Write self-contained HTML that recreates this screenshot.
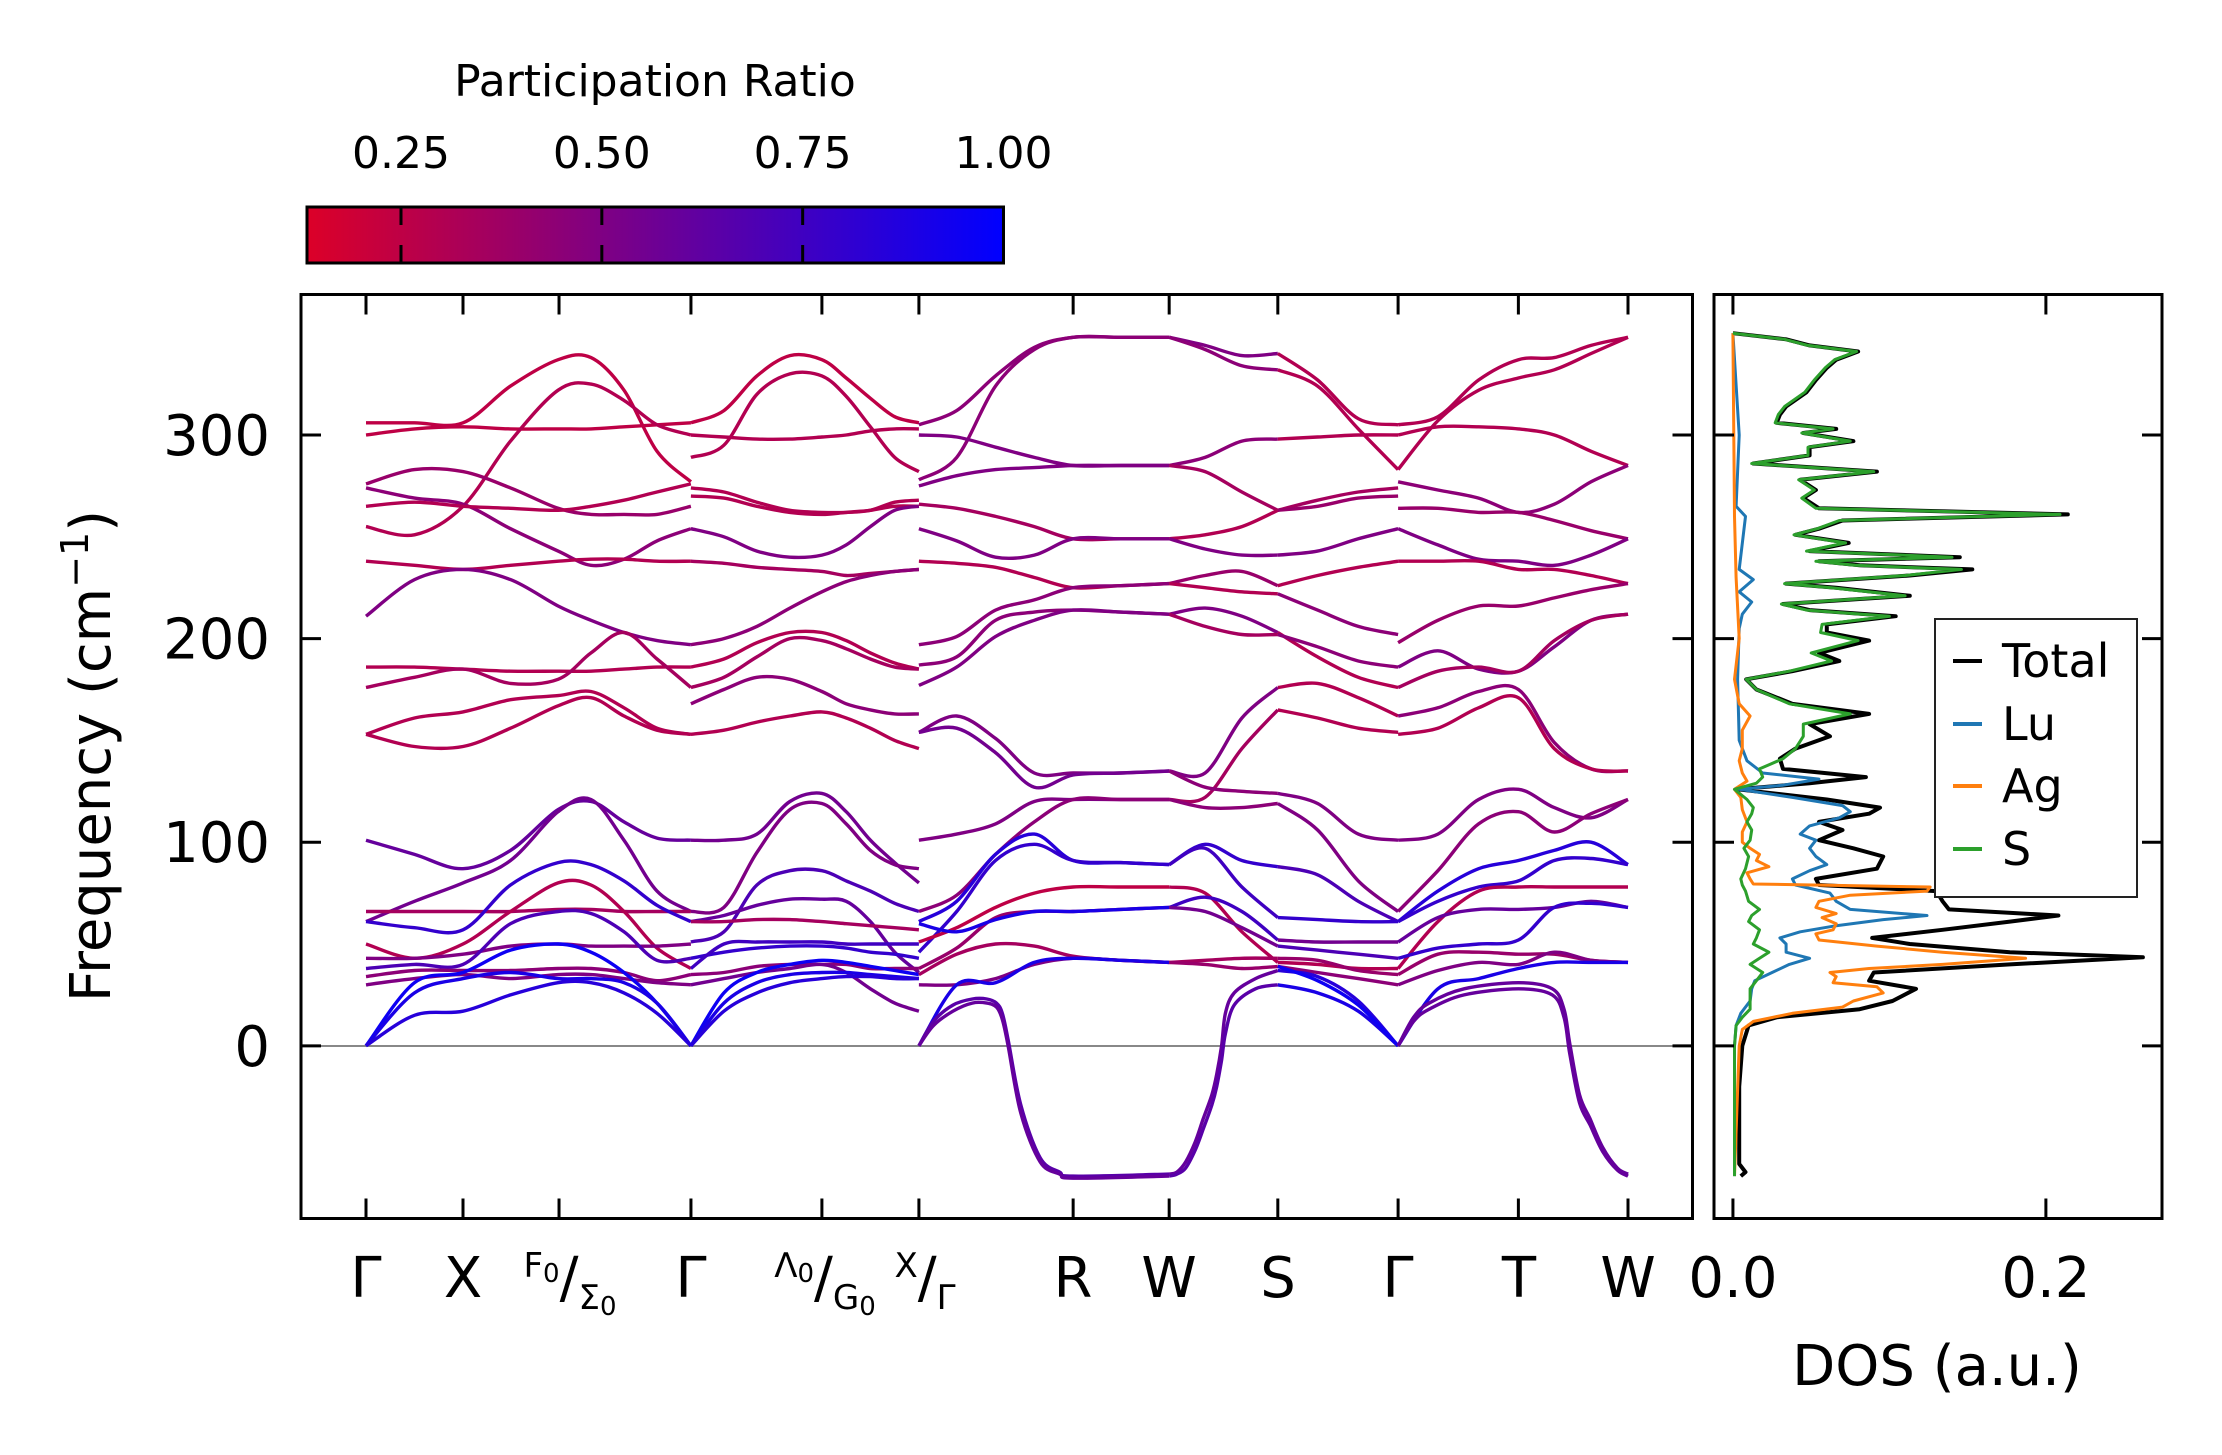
<!DOCTYPE html>
<html><head><meta charset="utf-8"><style>
html,body{margin:0;padding:0;background:#fff;}
svg{display:block;font-family:"DejaVu Sans","Liberation Sans",sans-serif;}
</style></head><body>
<svg id="fig" width="2222" height="1455" viewBox="0 0 2222 1455" xmlns="http://www.w3.org/2000/svg">
<defs>
<linearGradient id="cbgrad" x1="0" y1="0" x2="1" y2="0">
<stop offset="0" stop-color="rgb(220,0,40)"/><stop offset="1" stop-color="rgb(0,0,255)"/>
</linearGradient>
<clipPath id="bandclip"><rect x="301" y="294.5" width="1391.5" height="924"/></clipPath>
<clipPath id="dosclip"><rect x="1714" y="294.5" width="448" height="924"/></clipPath>
</defs>
<rect width="2222" height="1455" fill="#fff"/>
<g>
<text x="655" y="96" font-size="44" text-anchor="middle">Participation Ratio</text>
<rect x="307" y="207" width="696.5" height="56" fill="url(#cbgrad)" stroke="#000" stroke-width="3"/>
<g id="cbticks"></g>
</g>
<g id="bandpanel">
<line x1="301" x2="1692.5" y1="1046" y2="1046" stroke="#888" stroke-width="2"/>
<g id="bands" clip-path="url(#bandclip)"></g>
<rect x="301" y="294.5" width="1391.5" height="924" fill="none" stroke="#000" stroke-width="3"/>
<g id="bandaxes"></g>
<g font-size="56">
<text x="366" y="1297" text-anchor="middle">Γ</text>
<text x="463" y="1297" text-anchor="middle">X</text>
<text x="570" y="1297" text-anchor="middle"><tspan font-size="34" dy="-20">F</tspan><tspan font-size="26" dy="5">0</tspan><tspan font-size="56" dy="15">/</tspan><tspan font-size="34" dy="12">Σ</tspan><tspan font-size="26" dy="6">0</tspan></text>
<text x="691" y="1297" text-anchor="middle">Γ</text>
<text x="825" y="1297" text-anchor="middle"><tspan font-size="34" dy="-20">Λ</tspan><tspan font-size="26" dy="5">0</tspan><tspan font-size="56" dy="15">/</tspan><tspan font-size="34" dy="12">G</tspan><tspan font-size="26" dy="6">0</tspan></text>
<text x="925" y="1297" text-anchor="middle"><tspan font-size="34" dy="-20">X</tspan><tspan font-size="56" dy="20">/</tspan><tspan font-size="34" dy="12">Γ</tspan></text>
<text x="1073" y="1297" text-anchor="middle">R</text>
<text x="1169" y="1297" text-anchor="middle">W</text>
<text x="1278" y="1297" text-anchor="middle">S</text>
<text x="1398" y="1297" text-anchor="middle">Γ</text>
<text x="1519" y="1297" text-anchor="middle">T</text>
<text x="1628" y="1297" text-anchor="middle">W</text>
</g>
<text transform="translate(110,756) rotate(-90)" font-size="56" text-anchor="middle">Frequency (cm<tspan font-size="38" dy="-22">−1</tspan><tspan dy="22">)</tspan></text>
</g>
<g id="dospanel">
<g id="dos" clip-path="url(#dosclip)"></g>
<rect x="1714" y="294.5" width="448" height="924" fill="none" stroke="#000" stroke-width="3"/>
<g id="dosaxes"></g>
<text x="1937" y="1385" font-size="56" text-anchor="middle">DOS (a.u.)</text>
<g>
<rect x="1935" y="619" width="202" height="278" fill="#fff" stroke="#222" stroke-width="2"/>
<line x1="1953" x2="1982" y1="661" y2="661" stroke="#000" stroke-width="4"/>
<text x="2002" y="677" font-size="46">Total</text>
<line x1="1953" x2="1982" y1="724" y2="724" stroke="#1f77b4" stroke-width="4"/>
<text x="2002" y="740" font-size="46">Lu</text>
<line x1="1953" x2="1982" y1="786" y2="786" stroke="#ff7f0e" stroke-width="4"/>
<text x="2002" y="802" font-size="46">Ag</text>
<line x1="1953" x2="1982" y1="849" y2="849" stroke="#2ca02c" stroke-width="4"/>
<text x="2002" y="865" font-size="46">S</text>
</g>
</g>
</svg>
<script>
// ---------- data ----------
const kTicks=[0,1,1.99,3.35,4.70,5.70,7.29,8.28,9.40,10.64,11.88,13.01];
const yTicks=[0,100,200,300];
const yTickLabels=["0","100","200","300"];
const cbTicks=[0.25,0.5,0.75,1.0];
const cbTickLabels=["0.25","0.50","0.75","1.00"];
const dosTicks=[0,0.2];
const dosTickLabels=["0.0","0.2"];

const kP1=[0,0.5,1.0,1.49,1.98,2.32,2.66,3.0,3.35];
const fP1=[
[306,306,306,324,337,338,322,292,277],[300,303,304,303,303,303,304,305,306],[255,251,265,297,322,325,317,305,300],
[276,283,282,274,264,261,261,261,265],[274,269,266,254,243,236,239,248,254],[265,267,265,264,263,265,268,272,276],
[238,236,234,236,238,239,239,238,238],[211,229,234,229,216,209,203,199,197],[186,186,185,184,184,184,185,186,186],
[176,181,185,178,180,193,203,190,176],[153,161,164,170,172,174,166,156,153],[153,147,147,156,167,171,162,155,153],
[101,94,87,96,116,120,110,102,101],[61,71,80,91,115,121,101,76,66],[66,66,66,66,67,67,66,66,66],
[61,58,57,79,90,89,81,69,61],[50,43,50,66,80,79,66,48,38],[43,43,45,49,50,49,49,49,50],
[38,40,40,60,66,65,56,42,43],[34,37,37,37,38,38,36,32,35],[30,33,35,33,35,35,33,31,30],
[0,31,36,47,50,46,36,21,0],[0,26,33,36,33,33,31,21,0],[0,15,17,25,31,31,26,16,0]];
const prP1=[0.25,0.25,0.3,0.4,0.45,0.3,0.3,0.5,0.3,0.35,0.3,0.3,0.6,0.55,0.35,0.8,0.3,0.5,0.7,0.45,0.5,0.95,0.9,0.85];

const kP2=[3.35,3.69,4.03,4.37,4.70,4.95,5.20,5.45,5.70];
const fP2=[
[306,312,329,339,337,328,318,309,306],[289,295,320,330,329,319,304,289,282],[300,299,298,298,299,300,302,303,303],
[274,272,267,263,262,262,263,267,268],[270,269,265,262,261,262,263,265,265],[254,250,243,240,241,246,255,263,265],
[238,237,235,234,233,231,232,233,234],[197,200,206,215,223,228,231,233,234],[186,190,198,203,203,199,193,188,185],
[176,181,191,200,199,195,190,186,185],[168,175,181,180,174,168,165,163,163],[153,155,159,162,164,161,156,150,146],
[101,101,104,120,124,115,101,90,80],[66,68,95,116,119,109,96,89,87],[51,56,79,86,86,81,76,70,66],
[61,64,69,72,72,71,61,46,36],[61,61,62,62,61,60,59,58,57],[43,46,48,49,49,48,46,45,43],
[38,50,51,51,51,50,50,50,50],[35,36,39,40,40,40,38,38,38],[30,33,36,38,40,36,28,21,17],
[0,26,36,40,42,41,39,37,35],[0,21,31,35,36,36,35,34,33],[0,17,26,31,33,34,34,33,33]];
const prP2=[0.25,0.3,0.3,0.3,0.3,0.5,0.35,0.45,0.3,0.35,0.45,0.3,0.55,0.5,0.7,0.6,0.35,0.8,0.75,0.45,0.55,0.95,0.9,0.85];

const kP3=[5.70,6.09,6.49,6.89,7.29,7.78,8.28];
const fP3=[
[305,312,329,343,348,348,348],[278,289,324,342,348,348,348],[300,299,294,289,285,285,285],
[275,280,283,284,285,285,285],[266,264,260,255,249,249,249],[254,248,240,241,249,249,249],
[238,237,235,230,225,226,227],[197,201,214,219,225,226,227],[187,191,209,213,214,213,212],
[177,186,201,209,214,213,212],[154,162,151,134,134,134,135],[154,156,144,127,133,134,135],
[101,104,109,120,121,121,121],[66,74,94,110,121,121,121],[61,71,94,104,91,90,89],
[46,66,91,99,91,90,89],[51,58,68,75,78,78,78],[38,48,63,66,66,67,68],
[60,56,62,66,66,67,68],[35,45,50,49,44,42,41],[30,30,33,40,43,42,41],
[0,30,31,41,43,42,41]];
const prP3=[0.45,0.45,0.5,0.5,0.35,0.5,0.3,0.45,0.45,0.5,0.5,0.55,0.5,0.45,0.85,0.8,0.25,0.4,0.9,0.35,0.5,0.9];

const kP4=[8.28,8.65,9.03,9.40];
const fP4=[
[348,344,339,340],[348,342,334,332],[285,289,297,298],[285,282,272,263],[249,251,255,263],[249,244,241,241],
[227,231,233,226],[227,225,223,222],[212,215,211,203],[212,206,202,202],[135,134,161,176],[121,122,146,165],
[135,127,125,124],[121,117,117,119],[89,99,91,88],[89,97,78,63],[78,75,56,41],[68,73,66,52],
[68,66,58,49],[41,42,43,43],[41,40,38,39]];
const prP4=[0.5,0.45,0.45,0.35,0.3,0.5,0.4,0.3,0.5,0.35,0.5,0.35,0.45,0.45,0.8,0.75,0.3,0.75,0.55,0.35,0.4];

const kP5=[9.40,9.81,10.23,10.64];
const fP5=[
[340,327,308,305],[332,324,303,283],[298,299,300,300],[263,268,272,274],[263,265,269,270],[241,243,249,254],
[226,231,235,238],[222,214,206,202],[203,191,181,176],[202,196,189,186],[176,178,171,162],[165,161,156,154],
[124,119,104,101],[119,106,81,66],[88,84,71,61],[63,62,61,61],[41,40,38,38],[52,51,51,51],
[49,47,45,43],[43,42,37,35],[39,36,33,30],
[37,34,22,0],[30,26,17,0],[39,32,20,0]];
const prP5=[0.3,0.3,0.3,0.35,0.4,0.5,0.3,0.45,0.3,0.45,0.3,0.3,0.5,0.5,0.7,0.8,0.3,0.55,0.7,0.4,0.45,0.85,0.9,0.95];

const kP6=[10.64,11.05,11.47,11.88,12.25,12.63,13.01];
const fP6=[
[305,309,327,337,338,344,348],[283,307,322,328,332,340,348],[300,304,304,303,300,292,285],
[277,273,269,262,266,277,285],[264,264,262,262,258,253,249],[254,246,239,238,236,241,249],
[238,238,238,234,234,231,227],[198,209,216,216,220,224,227],[186,194,185,184,196,209,212],
[176,184,186,184,199,209,212],[162,166,174,175,149,136,135],[153,156,166,171,146,136,135],
[101,104,121,126,117,112,121],[66,86,109,115,105,114,121],[61,76,87,91,96,100,89],
[61,71,78,81,91,92,89],[38,61,76,78,78,78,78],[51,63,67,67,68,71,68],
[43,48,50,52,68,70,68],[35,45,46,45,45,42,41],[30,37,41,40,46,42,41],
[0,28,33,38,41,41,41]];
const prP6=[0.3,0.3,0.3,0.45,0.4,0.5,0.3,0.4,0.5,0.35,0.45,0.3,0.5,0.45,0.85,0.8,0.3,0.6,0.8,0.4,0.5,0.9];

const kImA=[5.70,5.85,6.05,6.25,6.40,6.50,6.56,6.62,6.75,6.95,7.15,7.29,8.28];
const fImA1=[0,12,20,23,23,21,16,3,-29,-55,-62,-64,-63];
const fImA2=[0,10,17,21,21,19,13,0,-33,-57,-63,-65,-64];
const kImB=[8.28,8.36,8.45,8.55,8.63,8.72,8.77,8.82,8.86,8.95,9.17,9.40];
const fImB1=[-63,-62,-57,-47,-36,-24,-14,0,16,26,33,37];
const fImB2=[-64,-63,-60,-51,-41,-29,-20,-7,6,20,28,30];
const kImC=[10.64,10.80,10.96,11.32,11.88,12.23,12.35,12.41,12.51,12.62,12.75,12.90,13.01];
const fImC1=[0,14,21,28,31,28,18,1,-24,-36,-50,-60,-63];
const fImC2=[0,12,18,25,28,25,14,-4,-28,-39,-52,-61,-64];
const prImag=[0.65,0.6,0.6,0.65,0.6,0.6];

const totF=[-64,-62,-58,-40,-20,0,10,14,18,22,28,32,36,40,43.5,46,50,53,57,61,64,67,71,76,79,82,87,93,97,101,106,110,114,117,121,126,129,132,136,141,146,152,158,163,168,175,180,184,189,193,199,203,207,211,214,217,221,225,227,231,234,236,238,240,243,247,251,254,258,261,264,269,273,278,282,286,290,294,297,301,303,306,310,314,321,327,333,337,341,344,347,350];
const totV=[0.005,0.008,0.004,0.004,0.004,0.006,0.010,0.028,0.081,0.102,0.117,0.087,0.090,0.177,0.262,0.177,0.113,0.089,0.134,0.177,0.208,0.138,0.134,0.130,0.055,0.053,0.092,0.096,0.077,0.055,0.070,0.055,0.087,0.094,0.060,0.003,0.049,0.085,0.032,0.030,0.040,0.062,0.049,0.087,0.038,0.015,0.0085,0.038,0.068,0.055,0.087,0.060,0.060,0.104,0.049,0.032,0.113,0.066,0.034,0.113,0.153,0.081,0.055,0.145,0.049,0.074,0.040,0.055,0.070,0.214,0.055,0.045,0.053,0.043,0.092,0.013,0.049,0.049,0.077,0.045,0.066,0.028,0.030,0.034,0.047,0.053,0.060,0.066,0.080,0.049,0.034,0.0];
const sV=[0.001,0.001,0.001,0.001,0.001,0.001,0.002,0.006,0.011,0.011,0.011,0.015,0.019,0.011,0.018,0.023,0.013,0.015,0.017,0.010,0.012,0.017,0.010,0.008,0.006,0.005,0.008,0.010,0.007,0.011,0.012,0.009,0.012,0.013,0.009,0.001,0.015,0.019,0.017,0.032,0.040,0.045,0.045,0.075,0.036,0.015,0.0085,0.036,0.063,0.050,0.080,0.056,0.057,0.100,0.047,0.031,0.110,0.063,0.033,0.110,0.146,0.078,0.053,0.140,0.047,0.072,0.039,0.054,0.068,0.209,0.053,0.044,0.052,0.042,0.090,0.012,0.048,0.048,0.075,0.044,0.064,0.027,0.029,0.033,0.046,0.052,0.059,0.065,0.079,0.048,0.033,0.0];
const luF=[-64,0,10,16,22,28,32,36,40,43,46,50,53,56,59,62,64,67,71,75,79,82,86,89,93,97,101,104,108,112,115,118,122,126,128,131,134,140,150,180,205,212,218,223,229,234,260,265,300,350];
const luV=[0.001,0.001,0.002,0.005,0.011,0.012,0.014,0.025,0.036,0.049,0.034,0.034,0.030,0.043,0.066,0.096,0.124,0.075,0.066,0.062,0.040,0.038,0.049,0.060,0.053,0.049,0.053,0.043,0.049,0.068,0.075,0.070,0.038,0.004,0.032,0.055,0.019,0.009,0.004,0.003,0.004,0.006,0.012,0.004,0.013,0.004,0.008,0.002,0.004,0.0];
const agF=[-64,0,8,12,16,19,22,26,29,31,34,36,38,40,43,46,49,52,55,57,60,63,65,68,71,74,76,78,79.5,82,85,88,91,94,97,100,105,110,116,122,126,130,134,140,146,155,162,168,180,200,230,260,350];
const agV=[0.001,0.004,0.006,0.013,0.038,0.070,0.077,0.096,0.092,0.064,0.066,0.062,0.087,0.134,0.187,0.134,0.092,0.055,0.053,0.064,0.066,0.057,0.066,0.053,0.055,0.075,0.124,0.126,0.013,0.011,0.009,0.023,0.015,0.017,0.011,0.006,0.006,0.009,0.006,0.005,0.001,0.009,0.006,0.004,0.006,0.006,0.011,0.004,0.001,0.004,0.002,0.001,0.0];

// ---------- scales ----------
const NS="http://www.w3.org/2000/svg";
const kMin=-0.67,kMax=13.675,bx0=301,bx1=1692.5;
const fMin=-84.8,fMax=369,by0=1218.5,by1=294.5;
function xK(k){return bx0+(k-kMin)/(kMax-kMin)*(bx1-bx0);}
function yF(f){return by0+(f-fMin)/(fMax-fMin)*(by1-by0);}
const dMin=-0.0121,dMax=0.2742,dx0=1714,dx1=2162;
function xD(d){return dx0+(d-dMin)/(dMax-dMin)*(dx1-dx0);}
const cbMin=0.133,cbMax=1.0,cx0=307,cx1=1003.5;
function xC(v){return cx0+(v-cbMin)/(cbMax-cbMin)*(cx1-cx0);}
function prColor(p){let t=(p-cbMin)/(cbMax-cbMin);t=Math.max(0,Math.min(1,t));
return "rgb("+Math.round(220*(1-t))+",0,"+Math.round(40+215*t)+")";}
function mk(tag,attrs,parent){const e=document.createElementNS(NS,tag);for(const a in attrs)e.setAttribute(a,attrs[a]);parent.appendChild(e);return e;}
function smoothPath(ks,fs){const p=ks.map((k,i)=>[xK(k),yF(fs[i])]);let d="M"+p[0][0].toFixed(1)+","+p[0][1].toFixed(1);
for(let i=0;i<p.length-1;i++){const a=p[Math.max(0,i-1)],b=p[i],c=p[i+1],e=p[Math.min(p.length-1,i+2)];
const c1=[b[0]+(c[0]-a[0])/6,b[1]+(c[1]-a[1])/6],c2=[c[0]-(e[0]-b[0])/6,c[1]-(e[1]-b[1])/6];
d+="C"+c1[0].toFixed(1)+","+c1[1].toFixed(1)+" "+c2[0].toFixed(1)+","+c2[1].toFixed(1)+" "+c[0].toFixed(1)+","+c[1].toFixed(1);}return d;}

// ---------- bands ----------
const bandsG=document.getElementById("bands");
const pieces=[[kP1,fP1,prP1],[kP2,fP2,prP2],[kP3,fP3,prP3],[kP4,fP4,prP4],[kP5,fP5,prP5],[kP6,fP6,prP6]];
pieces.forEach((pc,pi)=>{pc[1].forEach((fs,bi)=>{
const el=mk("path",{d:smoothPath(pc[0],fs),fill:"none",stroke:prColor(pc[2][bi]),"stroke-width":"3.4"},bandsG);


});});
const imag=[[kImA,fImA1],[kImA,fImA2],[kImB,fImB1],[kImB,fImB2],[kImC,fImC1],[kImC,fImC2]];
imag.forEach((im,i)=>{
const el=mk("path",{d:smoothPath(im[0],im[1]),fill:"none",stroke:prColor(prImag[i]),"stroke-width":"3.4"},bandsG);


});

// ---------- band axes ----------
const ba=document.getElementById("bandaxes");
kTicks.forEach(k=>{const x=xK(k);
const t1=mk("line",{x1:x,x2:x,y1:by0,y2:by0-20,stroke:"#000","stroke-width":"3"},ba);


const t2=mk("line",{x1:x,x2:x,y1:by1,y2:by1+20,stroke:"#000","stroke-width":"3"},ba);


});
yTicks.forEach((v,i)=>{const y=yF(v);
const t1=mk("line",{x1:bx0,x2:bx0+20,y1:y,y2:y,stroke:"#000","stroke-width":"3"},ba);


const t2=mk("line",{x1:bx1,x2:bx1-20,y1:y,y2:y,stroke:"#000","stroke-width":"3"},ba);


const tx=mk("text",{x:270,y:y+20,"font-size":"56","text-anchor":"end"},ba);
tx.textContent=yTickLabels[i];


});

// ---------- DOS ----------
const dosG=document.getElementById("dos");
function dosLine(fs,vs,color,w){const pts=fs.map((f,i)=>xD(vs[i]).toFixed(1)+","+yF(f).toFixed(1)).join(" ");
return mk("polyline",{points:pts,fill:"none",stroke:color,"stroke-width":w,"stroke-linejoin":"round"},dosG);}
const eT=dosLine(totF,totV,"#000","4");


const eL=dosLine(luF,luV,"#1f77b4","3");


const eA=dosLine(agF,agV,"#ff7f0e","3");


const eS=dosLine(totF,sV,"#2ca02c","3");



const da=document.getElementById("dosaxes");
dosTicks.forEach((v,i)=>{const x=xD(v);
const t1=mk("line",{x1:x,x2:x,y1:by0,y2:by0-20,stroke:"#000","stroke-width":"3"},da);


const t2=mk("line",{x1:x,x2:x,y1:by1,y2:by1+20,stroke:"#000","stroke-width":"3"},da);


const tx=mk("text",{x:x,y:1297,"font-size":"56","text-anchor":"middle"},da);
tx.textContent=dosTickLabels[i];


});
yTicks.forEach(v=>{const y=yF(v);
const t1=mk("line",{x1:dx0,x2:dx0+20,y1:y,y2:y,stroke:"#000","stroke-width":"3"},da);


const t2=mk("line",{x1:dx1,x2:dx1-20,y1:y,y2:y,stroke:"#000","stroke-width":"3"},da);


});

// ---------- colorbar ticks ----------
const cb=document.getElementById("cbticks");
cbTicks.forEach((v,i)=>{const x=xC(v);
if(v<cbMax){
const t1=mk("line",{x1:x,x2:x,y1:207,y2:225,stroke:"#000","stroke-width":"3"},cb);


const t2=mk("line",{x1:x,x2:x,y1:245,y2:263,stroke:"#000","stroke-width":"3"},cb);


}
const tx=mk("text",{x:x,y:168,"font-size":"44","text-anchor":"middle"},cb);
tx.textContent=cbTickLabels[i];


});
</script>
</body></html>
